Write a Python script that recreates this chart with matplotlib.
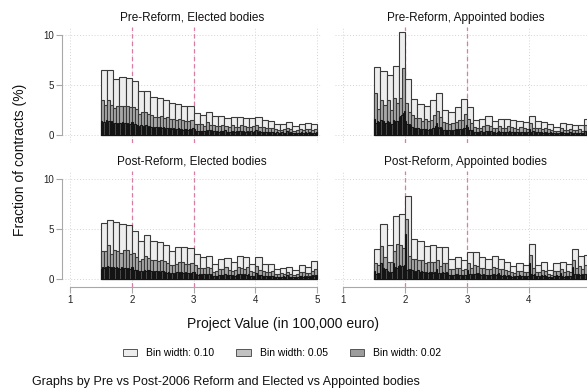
import matplotlib
matplotlib.use("Agg")
import matplotlib.pyplot as plt
from matplotlib.patches import Patch
import numpy as np

plt.rcParams['font.family'] = ['Liberation Sans', 'DejaVu Sans']

# histogram heights (% of contracts), bins start at 1.5
bin_start = 1.5

pre_elected_w10 = [6.5, 6.5, 5.6, 5.8, 5.7, 5.4, 4.4, 4.4, 3.8, 3.7, 3.5, 3.2, 3.1, 2.9, 2.9,
                   2.2, 2.0, 2.3, 1.9, 1.9, 1.7, 1.8, 1.8, 1.7, 1.7, 1.8, 1.5, 1.4, 1.1, 1.1,
                   1.3, 0.9, 1.1, 1.2, 1.1]
pre_elected_w05 = [3.5, 3.0, 3.5, 3.0, 2.7, 2.9, 2.9, 2.9, 2.9, 2.8, 2.8, 2.6, 2.1, 2.3, 2.3, 2.1,
                   2.0, 1.8, 1.8, 1.9, 1.7, 1.8, 1.6, 1.6, 1.5, 1.6, 1.5, 1.4, 1.4, 1.5, 1.1, 1.1,
                   1.1, 0.9, 1.3, 1.0, 1.0, 0.9, 0.9, 1.0, 0.9, 0.8, 1.0, 0.8, 0.8, 1.0, 0.9, 0.8,
                   0.8, 0.9, 1.0, 0.8, 0.8, 0.7, 0.7, 0.7, 0.6, 0.5, 0.5, 0.6, 0.7, 0.6, 0.4, 0.5,
                   0.6, 0.5, 0.6, 0.6, 0.5, 0.6]
pre_elected_w02 = [1.4, 1.2, 1.3, 1.1, 1.5, 1.3, 1.4, 1.2, 1.4, 1.2, 1.0, 1.2, 1.1, 1.2, 1.1,
                   1.2, 1.1, 1.3, 1.0, 1.2, 1.1, 1.2, 1.0, 1.1, 1.3, 1.3, 1.0, 1.1, 1.0, 1.0,
                   0.9, 0.8, 1.0, 0.8, 0.9, 0.8, 1.0, 0.9, 0.8, 0.9, 0.8, 0.7, 0.8, 0.7, 0.8,
                   0.7, 0.8, 0.7, 0.8, 0.7, 0.8, 0.7, 0.6, 0.7, 0.7, 0.6, 0.7, 0.6, 0.7, 0.6,
                   0.6, 0.6, 0.7, 0.6, 0.6, 0.6, 0.5, 0.6, 0.6, 0.6, 0.5, 0.6, 0.6, 0.5, 0.7,
                   0.6, 0.4, 0.4, 0.4, 0.4, 0.4, 0.4, 0.4, 0.4, 0.4, 0.5, 0.4, 0.5, 0.4, 0.5,
                   0.4, 0.4, 0.3, 0.4, 0.4, 0.3, 0.4, 0.4, 0.4, 0.4, 0.5, 0.3, 0.3, 0.3, 0.3,
                   0.4, 0.3, 0.4, 0.3, 0.4, 0.3, 0.4, 0.4, 0.3, 0.4, 0.4, 0.3, 0.3, 0.4, 0.3,
                   0.3, 0.4, 0.3, 0.3, 0.4, 0.5, 0.3, 0.3, 0.4, 0.3, 0.3, 0.3, 0.3, 0.3, 0.3,
                   0.3, 0.3, 0.2, 0.3, 0.3, 0.2, 0.2, 0.3, 0.2, 0.2, 0.2, 0.3, 0.2, 0.2, 0.2,
                   0.4, 0.2, 0.2, 0.3, 0.2, 0.2, 0.2, 0.2, 0.1, 0.2, 0.2, 0.2, 0.3, 0.2, 0.2,
                   0.3, 0.2, 0.2, 0.3, 0.2, 0.2, 0.2, 0.2, 0.2, 0.3]

pre_appointed_w10 = [6.8, 6.4, 6.0, 6.9, 10.3, 5.6, 3.6, 3.1, 2.9, 3.5, 4.2, 2.5, 2.3, 2.8, 3.6,
                     2.8, 1.5, 1.6, 1.9, 1.4, 1.6, 1.6, 1.5, 1.4, 1.3, 1.9, 1.4, 1.3, 1.1, 0.8,
                     1.2, 1.1, 1.0, 1.0, 1.6]
pre_appointed_w05 = [4.2, 2.6, 3.5, 3.0, 3.5, 2.5, 3.7, 3.2, 3.7, 6.7, 3.2, 2.3, 2.0, 1.7, 1.7, 1.4,
                     1.6, 1.4, 1.5, 2.0, 2.4, 1.8, 1.3, 1.2, 1.1, 1.2, 1.3, 1.5, 1.5, 2.1, 1.6, 1.2,
                     0.8, 0.7, 0.7, 0.9, 1.0, 0.9, 0.7, 0.7, 0.9, 0.7, 0.7, 0.9, 0.8, 0.7, 0.6, 0.8,
                     0.7, 0.6, 1.2, 0.7, 0.7, 0.7, 0.6, 0.7, 0.6, 0.5, 0.4, 0.4, 0.7, 0.5, 0.5, 0.6,
                     0.5, 0.5, 0.6, 0.4, 1.0, 0.6]
pre_appointed_w02 = [1.6, 1.2, 1.4, 1.3, 1.3, 1.5, 1.1, 1.4, 1.2, 1.2, 1.4, 1.1, 1.3, 1.1, 1.1,
                     1.5, 1.2, 1.4, 1.4, 1.4, 1.8, 1.9, 2.0, 2.2, 2.4, 1.4, 1.1, 1.0, 1.1, 1.0,
                     0.8, 0.7, 0.7, 0.7, 0.7, 0.7, 0.6, 0.6, 0.6, 0.6, 0.6, 0.6, 0.6, 0.5, 0.6,
                     0.6, 0.6, 0.7, 0.7, 0.9, 1.2, 0.8, 0.7, 0.8, 0.7, 0.5, 0.5, 0.5, 0.5, 0.5,
                     0.5, 0.4, 0.5, 0.4, 0.5, 0.6, 0.5, 0.6, 0.5, 0.6, 0.6, 0.6, 0.7, 0.7, 1.0,
                     0.8, 0.5, 0.5, 0.5, 0.5, 0.3, 0.3, 0.3, 0.3, 0.3, 0.3, 0.4, 0.3, 0.3, 0.3,
                     0.4, 0.4, 0.4, 0.3, 0.4, 0.3, 0.3, 0.3, 0.2, 0.3, 0.4, 0.3, 0.3, 0.3, 0.3,
                     0.3, 0.3, 0.3, 0.3, 0.4, 0.3, 0.3, 0.3, 0.3, 0.3, 0.3, 0.3, 0.2, 0.3, 0.3,
                     0.3, 0.2, 0.3, 0.2, 0.3, 0.6, 0.3, 0.3, 0.4, 0.3, 0.3, 0.3, 0.3, 0.2, 0.3,
                     0.3, 0.2, 0.3, 0.2, 0.3, 0.2, 0.2, 0.3, 0.2, 0.2, 0.2, 0.1, 0.2, 0.1, 0.2,
                     0.3, 0.2, 0.3, 0.2, 0.2, 0.2, 0.2, 0.2, 0.3, 0.2, 0.2, 0.2, 0.2, 0.2, 0.2,
                     0.2, 0.2, 0.2, 0.2, 0.2, 0.4, 0.3, 0.3, 0.3, 0.3]

post_elected_w10 = [5.6, 5.9, 5.7, 5.5, 5.4, 4.8, 3.8, 4.4, 3.8, 3.7, 3.4, 2.8, 3.2, 3.2, 3.1,
                    2.5, 2.2, 2.3, 1.5, 2.0, 2.1, 1.7, 2.3, 2.2, 1.5, 2.2, 1.5, 1.5, 1.0, 1.1,
                    1.2, 0.9, 1.4, 1.2, 1.8]
post_elected_w05 = [2.8, 2.8, 3.4, 2.5, 2.9, 2.8, 2.6, 2.9, 2.9, 2.5, 2.6, 2.2, 1.8, 2.0, 2.3, 2.1,
                    1.9, 1.9, 1.8, 1.9, 1.8, 1.6, 1.4, 1.4, 1.5, 1.7, 1.7, 1.5, 1.5, 1.6, 1.4, 1.1,
                    1.1, 1.1, 1.2, 1.1, 0.7, 0.8, 1.0, 1.0, 1.2, 0.9, 0.8, 0.9, 1.2, 1.1, 1.0, 1.2,
                    0.8, 0.7, 1.3, 0.9, 0.8, 0.7, 0.7, 0.8, 0.5, 0.5, 0.6, 0.5, 0.7, 0.5, 0.4, 0.5,
                    0.7, 0.7, 0.6, 0.6, 0.8, 1.0]
post_elected_w02 = [1.0, 1.2, 1.1, 1.2, 1.1, 1.3, 1.2, 1.1, 1.2, 1.1, 1.2, 1.1, 1.2, 1.1, 1.1,
                    1.0, 1.2, 1.1, 1.1, 1.1, 1.1, 1.0, 1.1, 1.0, 1.2, 1.2, 0.9, 0.9, 0.9, 0.9,
                    0.8, 0.7, 0.8, 0.7, 0.8, 0.9, 0.8, 0.9, 0.9, 0.9, 0.8, 0.7, 0.8, 0.7, 0.8,
                    0.7, 0.8, 0.7, 0.7, 0.8, 0.8, 0.6, 0.7, 0.6, 0.7, 0.6, 0.5, 0.6, 0.5, 0.6,
                    0.6, 0.7, 0.6, 0.7, 0.6, 0.7, 0.6, 0.6, 0.7, 0.6, 0.6, 0.6, 0.6, 0.6, 0.7,
                    0.7, 0.4, 0.5, 0.4, 0.5, 0.4, 0.5, 0.4, 0.5, 0.4, 0.5, 0.4, 0.5, 0.4, 0.5,
                    0.3, 0.3, 0.3, 0.3, 0.3, 0.4, 0.4, 0.4, 0.4, 0.4, 0.5, 0.4, 0.4, 0.4, 0.4,
                    0.3, 0.4, 0.3, 0.3, 0.4, 0.5, 0.4, 0.5, 0.4, 0.5, 0.4, 0.5, 0.4, 0.4, 0.5,
                    0.3, 0.3, 0.3, 0.3, 0.3, 0.6, 0.4, 0.4, 0.4, 0.4, 0.3, 0.3, 0.3, 0.3, 0.3,
                    0.3, 0.3, 0.3, 0.3, 0.3, 0.2, 0.2, 0.2, 0.2, 0.2, 0.2, 0.2, 0.3, 0.2, 0.2,
                    0.4, 0.2, 0.2, 0.2, 0.2, 0.2, 0.2, 0.2, 0.1, 0.2, 0.3, 0.3, 0.3, 0.2, 0.3,
                    0.2, 0.3, 0.2, 0.3, 0.2, 0.3, 0.4, 0.3, 0.4, 0.4]

post_appointed_w10 = [3.0, 5.5, 3.4, 6.3, 6.5, 8.3, 4.0, 3.8, 3.3, 3.4, 3.2, 3.2, 2.0, 2.2, 1.9,
                      2.7, 2.7, 2.2, 2.0, 2.3, 2.0, 1.7, 1.3, 1.6, 1.4, 3.5, 1.4, 1.7, 0.9, 1.6,
                      1.7, 1.5, 3.0, 2.3, 2.4]
post_appointed_w05 = [1.6, 1.4, 3.3, 2.2, 1.7, 1.7, 2.8, 3.5, 3.4, 3.1, 6.0, 2.3, 2.0, 2.0, 1.9, 1.9,
                      1.6, 1.7, 1.7, 1.7, 1.9, 1.3, 1.6, 1.6, 1.0, 1.0, 1.1, 1.1, 0.9, 1.0, 1.6, 1.1,
                      1.4, 1.3, 1.1, 1.1, 1.0, 1.0, 1.2, 1.1, 1.0, 1.0, 0.9, 0.8, 0.7, 0.6, 0.8, 0.8,
                      0.7, 0.7, 2.4, 1.1, 0.7, 0.7, 0.9, 0.8, 0.5, 0.4, 0.8, 0.8, 1.0, 0.7, 0.8, 0.7,
                      1.9, 1.1, 1.3, 1.0, 1.4, 1.0]
post_appointed_w02 = [0.8, 0.5, 0.6, 0.5, 0.6, 1.6, 0.9, 1.1, 0.9, 1.0, 0.8, 0.6, 0.7, 0.6, 0.7,
                      1.6, 1.1, 1.2, 1.1, 1.3, 1.4, 1.2, 1.3, 1.2, 1.4, 4.5, 0.9, 1.0, 0.9, 1.0,
                      0.9, 0.8, 0.8, 0.7, 0.8, 0.9, 0.7, 0.7, 0.8, 0.7, 0.7, 0.6, 0.7, 0.6, 0.7,
                      0.7, 0.7, 0.6, 0.7, 0.7, 1.0, 0.5, 0.6, 0.5, 0.6, 0.7, 0.6, 0.6, 0.7, 0.6,
                      0.4, 0.4, 0.4, 0.4, 0.4, 0.5, 0.4, 0.5, 0.4, 0.4, 0.4, 0.4, 0.3, 0.4, 0.4,
                      0.9, 0.4, 0.5, 0.4, 0.5, 0.5, 0.5, 0.6, 0.5, 0.6, 0.5, 0.4, 0.4, 0.5, 0.4,
                      0.4, 0.4, 0.4, 0.4, 0.4, 0.5, 0.4, 0.5, 0.4, 0.5, 0.6, 0.3, 0.4, 0.3, 0.4,
                      0.4, 0.3, 0.3, 0.4, 0.3, 0.3, 0.2, 0.3, 0.2, 0.3, 0.3, 0.3, 0.4, 0.3, 0.3,
                      0.3, 0.3, 0.3, 0.2, 0.3, 1.6, 0.5, 0.5, 0.4, 0.5, 0.3, 0.3, 0.3, 0.2, 0.3,
                      0.4, 0.3, 0.4, 0.3, 0.3, 0.2, 0.2, 0.2, 0.1, 0.2, 0.3, 0.3, 0.4, 0.3, 0.3,
                      0.6, 0.3, 0.3, 0.2, 0.3, 0.3, 0.3, 0.3, 0.3, 0.3, 1.2, 0.4, 0.5, 0.4, 0.5,
                      0.5, 0.4, 0.5, 0.4, 0.5, 0.5, 0.5, 0.4, 0.5, 0.5]

panel_titles = ["Pre-Reform, Elected bodies", "Pre-Reform, Appointed bodies",
                "Post-Reform, Elected bodies", "Post-Reform, Appointed bodies"]
panel_data = [
    (pre_elected_w10, pre_elected_w05, pre_elected_w02),
    (pre_appointed_w10, pre_appointed_w05, pre_appointed_w02),
    (post_elected_w10, post_elected_w05, post_elected_w02),
    (post_appointed_w10, post_appointed_w05, post_appointed_w02),
]
bin_widths = [0.10, 0.05, 0.02]
bin_labels = ["Bin width: 0.10", "Bin width: 0.05", "Bin width: 0.02"]
fill_colors = ["#ededed", "#c2c2c2", "#9c9c9c"]
bar_fills = ["#ededed", "#a8a8a8", "#555555"]
bar_edges = ["#3a3a3a", "#3a3a3a", "#141414"]
ref_lines = [2, 3]
x_ticks = [1, 2, 3, 4, 5]
y_ticks = [0, 5, 10]

W, H = 587, 389
fig = plt.figure(figsize=(W / 100, H / 100), dpi=100)

axis_gray = "#a8a8a8"
# pixel boxes (left, top) of each panel, all 260x116
boxes = [(62, 27), (335.3, 27), (62, 171), (335.3, 171)]

for k, (left, top) in enumerate(boxes):
    ax = fig.add_axes([left / W, 1 - (top + 116) / H, 260 / W, 116 / H])
    ax.set_xlim(0.8706, 5.078)
    ax.set_ylim(-0.8, 10.8)
    ax.set_facecolor("white")

    for xv in x_ticks:
        ax.axvline(xv, color="#d4d4d4", lw=0.7, ls=(0, (1, 2)), zorder=0)
    for yv in y_ticks:
        ax.axhline(yv, color="#d4d4d4", lw=0.7, ls=(0, (1, 2)), zorder=0)
    for xv in ref_lines:
        ax.axvline(xv, color="#dc7ca6", lw=0.9, ls=(0, (3.5, 2.5)), zorder=0.5)

    for j, (vals, w) in enumerate(zip(panel_data[k], bin_widths)):
        edges = bin_start + w * np.arange(len(vals))
        ax.bar(edges, vals, width=w, align="edge", color=bar_fills[j],
               edgecolor=bar_edges[j], linewidth=0.8, zorder=2 + j)

    ax.set_title(panel_titles[k], fontsize=8.5, pad=4.5, color="#111111")

    for s in ["top", "right"]:
        ax.spines[s].set_visible(False)
    left_col = k in (0, 2)
    bottom_row = k in (2, 3)

    if left_col:
        ax.spines["left"].set_bounds(0, 10)
        ax.spines["left"].set_color(axis_gray)
        ax.spines["left"].set_linewidth(0.8)
        ax.set_yticks(y_ticks)
        ax.set_yticklabels([str(v) for v in y_ticks])
        ax.tick_params(axis="y", length=4, width=0.8, color=axis_gray,
                       labelsize=7, pad=2, labelcolor="#222222")
    else:
        ax.spines["left"].set_visible(False)
        ax.set_yticks([])

    if bottom_row:
        ax.spines["bottom"].set_bounds(1, 5)
        ax.spines["bottom"].set_color(axis_gray)
        ax.spines["bottom"].set_linewidth(0.8)
        ax.set_xticks(x_ticks)
        # the right panel runs past the figure edge, its last label is not shown
        labels = [str(v) for v in x_ticks] if left_col else [str(v) for v in x_ticks[:-1]] + [""]
        ax.set_xticklabels(labels)
        ax.tick_params(axis="x", length=4, width=0.8, color=axis_gray,
                       labelsize=7, pad=2, labelcolor="#222222")
    else:
        ax.spines["bottom"].set_visible(False)
        ax.set_xticks([])

fig.text(20 / W, 1 - 160 / H, "Fraction of contracts (%)", rotation=90,
         ha="center", va="center", fontsize=10, color="#111111")
fig.text(283 / W, 1 - 324 / H, "Project Value (in 100,000 euro)",
         ha="center", va="center", fontsize=10, color="#111111")

handles = [Patch(facecolor=c, edgecolor="#555555", linewidth=0.7) for c in fill_colors]
fig.legend(handles, bin_labels, loc="center", bbox_to_anchor=(282 / W, 1 - 353 / H),
           ncol=3, frameon=False, fontsize=7.5, handlelength=1.4, handleheight=0.7,
           handletextpad=0.85, columnspacing=2.1)

fig.text(32 / W, 1 - 382 / H, "Graphs by Pre vs Post-2006 Reform and Elected vs Appointed bodies",
         ha="left", va="center", fontsize=9, color="#111111")

fig.savefig("out.png", dpi=100, facecolor="white")
